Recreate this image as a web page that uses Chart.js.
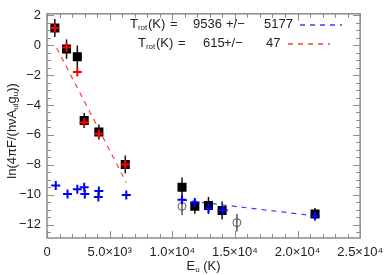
<!DOCTYPE html>
<html>
<head>
<meta charset="utf-8">
<script src="https://cdn.jsdelivr.net/npm/chart.js@4.4.0/dist/chart.umd.min.js"></script>
<style>
  body { margin: 0; background: #fff; }
  canvas { display: block; }
</style>
</head>
<body>
<canvas id="chart" width="390" height="275"></canvas>
<script>
// Observed fluxes (black squares) with 1-sigma errors
const obsEnergy = [625, 1560, 2420, 2970, 4140, 6250, 10780, 11800, 12890, 13980, 21400];
const obsValue = [1.15, -0.26, -0.77, -5.04, -5.81, -7.98, -9.51, -10.78, -10.72, -11.06, -11.30];
const obsError = [0.6, 0.65, 0.75, 0.5, 0.5, 0.6, 0.65, 0.5, 0.57, 0.6, 0.4];

// Upper limits (open circles)
const limEnergy = [10780, 15160];
const limValue = [-10.78, -11.87];
const limError = [0.6, 0.6];

// Model values, cold component (red) and hot component (blue)
const redEnergy = [625, 1560, 2420, 2970, 4140, 6250];
const redValue = [1.15, -0.13, -1.79, -5.17, -5.93, -7.98];
const blueEnergy = [700, 1640, 2420, 2970, 3020, 4140, 4100, 6330, 10780, 11800, 12890, 14060, 21400];
const blueValue = [-9.38, -9.96, -9.64, -9.51, -9.96, -9.76, -10.15, -10.02, -10.34, -10.53, -10.91, -11.04, -11.42];

// Fit lines
const redFitEnergy = [780, 6330];
const redFitValue = [-0.19, -9.19];
const blueFitEnergy = [10780, 21400];
const blueFitValue = [-10.36, -11.42];

// Rotational temperatures shown in the legend
const tRot = [9536, 615];
const tRotErr = [5177, 47];

// Axes
const xTicks = [0, 5000, 10000, 15000, 20000, 25000];
const xTickLabels = ['0', '5.0×10³', '1.0×10⁴', '1.5×10⁴', '2.0×10⁴', '2.5×10⁴'];
const yTicks = [-12, -10, -8, -6, -4, -2, 0, 2];
const yTickLabels = ['−12', '−10', '−8', '−6', '−4', '−2', '0', '2'];

const FONT = '"Liberation Sans", Arial, sans-serif';
const AXIS_GREY = '#8c8c8c';
const TEXT = '#222';

const pts = (xs, ys) => xs.map((x, i) => ({ x: x, y: ys[i] }));

// draw a run of [text, isSubscript] pieces starting at x
function drawParts(ctx, parts, x, y) {
    parts.forEach(([txt, sub]) => {
        ctx.font = (sub ? '8px ' : '13px ') + FONT;
        ctx.fillText(txt, x, sub ? y + 4 : y);
        x += ctx.measureText(txt).width;
    });
    return x;
}
function partsWidth(ctx, parts) {
    let w = 0;
    parts.forEach(([txt, sub]) => {
        ctx.font = (sub ? '8px ' : '13px ') + FONT;
        w += ctx.measureText(txt).width;
    });
    return w;
}
function seg(ctx, x1, y1, x2, y2) {
    ctx.beginPath();
    ctx.moveTo(x1, y1);
    ctx.lineTo(x2, y2);
    ctx.stroke();
}

const idlFrame = {
    id: 'idlFrame',
    beforeDatasetsDraw(chart) {
        const ctx = chart.ctx;
        const xs = chart.scales.x, ys = chart.scales.y;
        ctx.save();
        ctx.lineWidth = 1.5;
        ctx.strokeStyle = '#111';
        obsEnergy.forEach((e, i) => {
            const px = xs.getPixelForValue(e);
            seg(ctx, px, ys.getPixelForValue(obsValue[i] + obsError[i]), px, ys.getPixelForValue(obsValue[i] - obsError[i]));
        });
        ctx.strokeStyle = '#555';
        limEnergy.forEach((e, i) => {
            const px = xs.getPixelForValue(e);
            seg(ctx, px, ys.getPixelForValue(limValue[i] + limError[i]), px, ys.getPixelForValue(limValue[i] - limError[i]));
        });
        ctx.restore();
    },
    afterDraw(chart) {
        const ctx = chart.ctx;
        const a = chart.chartArea;
        const xs = chart.scales.x, ys = chart.scales.y;
        ctx.save();

        // box with inward ticks on all sides
        ctx.strokeStyle = AXIS_GREY;
        ctx.lineWidth = 1.5;
        ctx.strokeRect(a.left, a.top, a.right - a.left, a.bottom - a.top);
        ctx.lineWidth = 1;
        for (let v = 0; v <= 25000; v += 1000) {
            const len = v % 5000 === 0 ? 7 : 4;
            const px = Math.round(xs.getPixelForValue(v)) + 0.5;
            seg(ctx, px, a.bottom, px, a.bottom - len);
            seg(ctx, px, a.top, px, a.top + len);
        }
        for (let v = Math.ceil(ys.min * 2) / 2; v <= ys.max; v += 0.5) {
            const len = v % 2 === 0 ? 7 : 4;
            const py = Math.round(ys.getPixelForValue(v)) + 0.5;
            seg(ctx, a.left, py, a.left + len, py);
            seg(ctx, a.right, py, a.right - len, py);
        }

        ctx.fillStyle = TEXT;
        ctx.textBaseline = 'middle';
        ctx.textAlign = 'left';

        // x title
        const xTitle = [['E', false], ['u', true], [' (K)', false]];
        drawParts(ctx, xTitle, (a.left + a.right) / 2 - partsWidth(ctx, xTitle) / 2, 266);

        // y title, rotated
        const yTitle = [['ln(4πF/(hνA', false], ['ul', true], ['g', false], ['u', true], ['))', false]];
        ctx.save();
        ctx.translate(12, (a.top + a.bottom) / 2 + 5);
        ctx.rotate(-Math.PI / 2);
        drawParts(ctx, yTitle, -partsWidth(ctx, yTitle) / 2, 0);
        ctx.restore();

        // legend
        const rows = [
            { x: 130, y: 24, pos: [148, 170, 193, 226, 264], dash: [300, 342], color: '#3c3cff' },
            { x: 138, y: 43, pos: [156, 178, 203, 224, 266], dash: [288, 330], color: '#ff3c3c' }
        ];
        rows.forEach((r, i) => {
            ctx.fillStyle = TEXT;
            drawParts(ctx, [['T', false], ['rot', true]], r.x, r.y);
            ctx.font = '13px ' + FONT;
            ['(K)', '=', String(tRot[i]), '+/−', String(tRotErr[i])].forEach((t, k) => {
                ctx.fillText(t, r.pos[k], r.y);
            });
            ctx.strokeStyle = r.color;
            ctx.lineWidth = 1.5;
            ctx.setLineDash([5, 5]);
            seg(ctx, r.dash[0], r.y + 1, r.dash[1], r.y + 1);
            ctx.setLineDash([]);
        });
        ctx.restore();
    }
};

new Chart(document.getElementById('chart'), {
    type: 'scatter',
    data: {
        datasets: [{
            data: pts(blueEnergy, blueValue),
            pointStyle: 'cross',
            pointRadius: 4.5,
            borderColor: '#0000ff',
            borderWidth: 2,
            order: 1
        }, {
            data: pts(redEnergy, redValue),
            pointStyle: 'cross',
            pointRadius: 4.5,
            borderColor: '#ff0000',
            borderWidth: 2,
            order: 2
        }, {
            data: pts(obsEnergy, obsValue),
            pointStyle: 'rect',
            pointRadius: 6.4,
            backgroundColor: '#000',
            borderColor: '#000',
            borderWidth: 0,
            order: 4
        }, {
            data: pts(limEnergy, limValue),
            pointStyle: 'circle',
            pointRadius: 4,
            backgroundColor: 'rgba(255,255,255,0)',
            borderColor: '#555',
            borderWidth: 1,
            order: 5
        }, {
            type: 'line',
            data: pts(redFitEnergy, redFitValue),
            showLine: true,
            borderColor: '#ff3c3c',
            borderWidth: 1.2,
            borderDash: [5, 5],
            pointRadius: 0,
            fill: false,
            order: 6
        }, {
            type: 'line',
            data: pts(blueFitEnergy, blueFitValue),
            showLine: true,
            borderColor: '#3c3cff',
            borderWidth: 1.2,
            borderDash: [5, 5],
            pointRadius: 0,
            fill: false,
            order: 6
        }]
    },
    options: {
        responsive: false,
        animation: false,
        layout: { padding: { top: 3, right: 23, left: 0, bottom: 0 } },
        plugins: {
            legend: { display: false },
            tooltip: { enabled: false }
        },
        scales: {
            x: {
                type: 'linear',
                min: 0,
                max: 25000,
                grid: { display: false, drawTicks: false },
                border: { display: false },
                afterBuildTicks: s => { s.ticks = xTicks.map(v => ({ value: v })); },
                afterFit: s => { s.height = 37; },
                ticks: {
                    callback: (v, i) => xTickLabels[i],
                    autoSkip: false,
                    maxRotation: 0,
                    padding: 7,
                    color: TEXT,
                    font: { family: FONT, size: 13 }
                }
            },
            y: {
                min: -12.9,
                max: 2.1,
                grid: { display: false, drawTicks: false },
                border: { display: false },
                afterBuildTicks: s => { s.ticks = yTicks.map(v => ({ value: v })); },
                afterFit: s => { s.width = 47; },
                ticks: {
                    callback: (v, i) => yTickLabels[i],
                    padding: 6,
                    color: TEXT,
                    font: { family: FONT, size: 13 }
                }
            }
        }
    },
    plugins: [idlFrame]
});
</script>
</body>
</html>
